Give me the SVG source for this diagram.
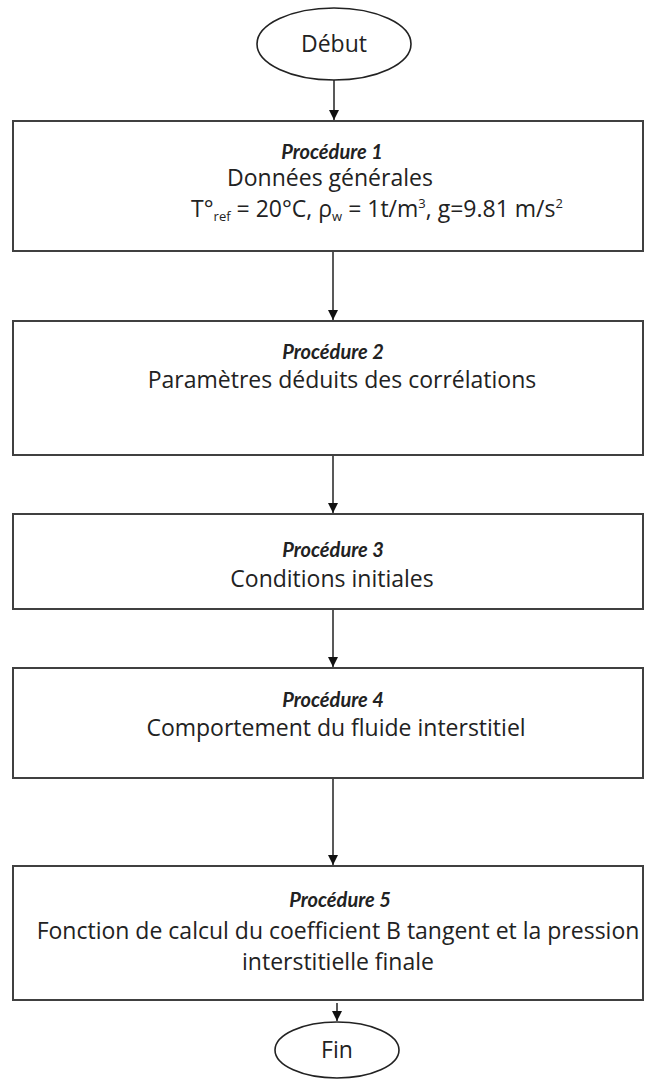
<svg xmlns="http://www.w3.org/2000/svg" width="657" height="1081" viewBox="0 0 657 1081">
<style>
.box{fill:#fff;stroke:#404040;stroke-width:2}
.term{fill:#fff;stroke:#222;stroke-width:1.6}
.t{font-family:"Open Sans","Liberation Sans",sans-serif;font-size:23px;fill:#222;text-anchor:middle}
.h{font-family:Lato,"Liberation Sans",sans-serif;font-size:20px;font-weight:bold;font-style:italic}
.s{font-size:13px}
.c{stroke:#222;stroke-width:1.5;fill:none;marker-end:url(#ah)}
</style>
<defs>
<marker id="ah" markerWidth="10" markerHeight="12" refX="10" refY="5" orient="auto" markerUnits="userSpaceOnUse">
<path d="M0,0 L10,5 L0,10 Z" fill="#111"/>
</marker>
</defs>
<rect width="657" height="1081" fill="#fff"/>
<g id="debut">
<ellipse class="term" cx="334" cy="44" rx="77" ry="36"/>
<text class="t" x="334" y="52">Début</text>
</g>
<g id="p1">
<rect class="box" x="13" y="121" width="630" height="130"/>
<text class="t h" x="332" y="159">Procédure 1</text>
<text class="t" x="330" y="186" font-size="22">Données générales</text>
<text class="t" x="377" y="217" font-size="22">T°<tspan class="s" dy="4">ref</tspan><tspan dy="-4"> = 20°C, ρ</tspan><tspan class="s" dy="4">w</tspan><tspan dy="-4"> = 1t/m</tspan><tspan class="s" dy="-9">3</tspan><tspan dy="9">, g=9.81 m/s</tspan><tspan class="s" dy="-9">2</tspan></text>
</g>
<g id="p2">
<rect class="box" x="13" y="321" width="630" height="134"/>
<text class="t h" x="333" y="359">Procédure 2</text>
<text class="t" x="342" y="388">Paramètres déduits des corrélations</text>
</g>
<g id="p3">
<rect class="box" x="13" y="514" width="630" height="95"/>
<text class="t h" x="333" y="557">Procédure 3</text>
<text class="t" x="332" y="587">Conditions initiales</text>
</g>
<g id="p4">
<rect class="box" x="13" y="668" width="630" height="110"/>
<text class="t h" x="333" y="707">Procédure 4</text>
<text class="t" x="336" y="736">Comportement du fluide interstitiel</text>
</g>
<g id="p5">
<rect class="box" x="13" y="866" width="630" height="134"/>
<text class="t h" x="340" y="907">Procédure 5</text>
<text class="t" x="338" y="939">Fonction de calcul du coefficient B tangent et la pression</text>
<text class="t" x="338" y="970">interstitielle finale</text>
</g>
<g id="fin">
<ellipse class="term" cx="337" cy="1050" rx="62" ry="28"/>
<text class="t" x="337" y="1058">Fin</text>
</g>
<g id="connectors">
<line class="c" x1="334" y1="80" x2="334" y2="120"/>
<line class="c" x1="333" y1="252" x2="333" y2="320"/>
<line class="c" x1="333" y1="456" x2="333" y2="513"/>
<line class="c" x1="333" y1="610" x2="333" y2="667"/>
<line class="c" x1="333" y1="779" x2="333" y2="865"/>
<line class="c" x1="337" y1="1003" x2="337" y2="1021"/>
</g>
</svg>
